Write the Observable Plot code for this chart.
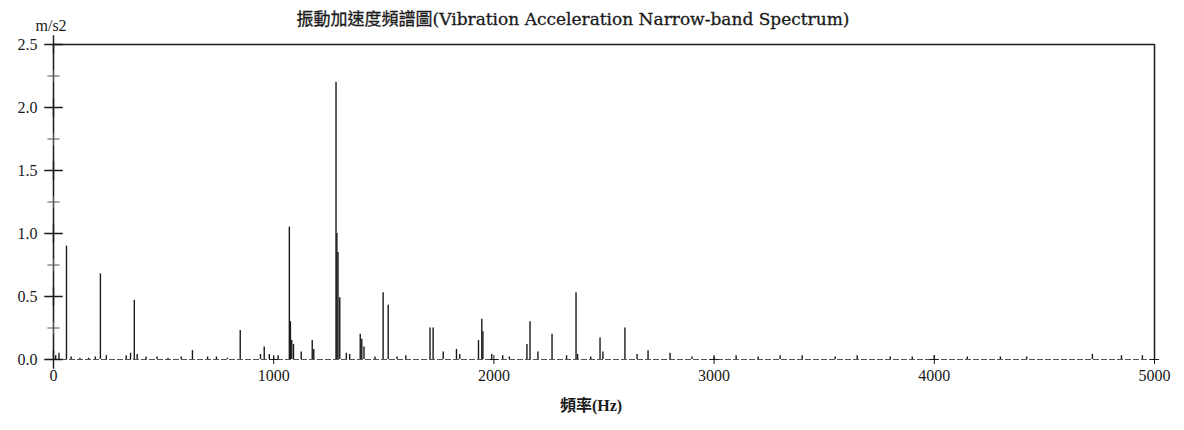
<!DOCTYPE html>
<html>
<head>
<meta charset="utf-8">
<script src="https://cdn.jsdelivr.net/npm/d3@7"></script>
<script src="https://cdn.jsdelivr.net/npm/@observablehq/plot@0.6"></script>
<style>
  html, body { margin: 0; padding: 0; background: #fff; }
  svg { display: block; }
</style>
</head>
<body>
<div id="chart"></div>
<script>
const titleText = "振動加速度頻譜圖(Vibration Acceleration Narrow-band Spectrum)";
const yUnit = "m/s2";
const xLabel = "頻率(Hz)";

const xTicks = [0, 1000, 2000, 3000, 4000, 5000];
const yTicks = [0, 0.5, 1.0, 1.5, 2.0, 2.5];
const yMinorTicks = [0.25, 0.75, 1.25, 1.75, 2.25];

// Spectrum lines: frequency (Hz) and amplitude (m/s2)
const freqs = [10, 25, 59, 80, 120, 160, 190, 213, 240, 330, 350, 367, 380, 420, 470, 520, 580, 631, 700, 740, 790,
  848, 940, 957, 980, 1000, 1020, 1071, 1076, 1082, 1090, 1125, 1175, 1182,
  1283, 1287, 1292, 1300, 1330, 1345, 1393, 1400, 1410, 1460, 1497, 1520,
  1560, 1600, 1710, 1724, 1770, 1830, 1845, 1930, 1945, 1950, 1990, 2040, 2070,
  2150, 2164, 2200, 2264, 2330, 2373, 2380, 2440, 2482, 2495, 2595, 2650, 2700, 2800,
  2900, 3000, 3100, 3200, 3300, 3400, 3550, 3650, 3800, 3900, 4000, 4150, 4300, 4420,
  4718, 4850, 4945];
const amps = [0.03, 0.05, 0.9, 0.02, 0.01, 0.01, 0.02, 0.68, 0.03, 0.03, 0.05, 0.47, 0.04, 0.02, 0.02, 0.01, 0.02, 0.07, 0.02, 0.02, 0.01,
  0.23, 0.04, 0.1, 0.04, 0.02, 0.03, 1.05, 0.3, 0.15, 0.12, 0.06, 0.15, 0.08,
  2.2, 1.0, 0.85, 0.49, 0.05, 0.04, 0.2, 0.16, 0.1, 0.02, 0.53, 0.43,
  0.02, 0.03, 0.25, 0.25, 0.06, 0.08, 0.04, 0.15, 0.32, 0.22, 0.04, 0.03, 0.02,
  0.12, 0.3, 0.06, 0.2, 0.03, 0.53, 0.04, 0.02, 0.17, 0.06, 0.25, 0.04, 0.07, 0.05,
  0.02, 0.02, 0.03, 0.02, 0.03, 0.03, 0.02, 0.03, 0.02, 0.02, 0.03, 0.02, 0.02, 0.02,
  0.04, 0.03, 0.03];

const spectrum = freqs.map((f, i) => ({f, a: amps[i]}));
const serif = "'Liberation Serif', 'DejaVu Serif', serif";
const cjk = "'Liberation Serif', 'Noto Sans CJK TC', serif";
const titleFont = "'DejaVu Serif', 'Noto Sans CJK TC', serif";
const ink = "#1a1a1a";

const chart = Plot.plot({
  width: 1184,
  height: 430,
  marginTop: 44,
  marginBottom: 71,
  marginLeft: 53,
  marginRight: 30,
  style: {fontFamily: serif, fontSize: "16px", color: ink, background: "#fff"},
  x: {domain: [0, 5000]},
  y: {domain: [0, 2.5]},
  marks: [
    // frame lines
    Plot.ruleY([0], {stroke: "#555", strokeWidth: 1, strokeDasharray: "6,2"}),
    Plot.ruleY([2.5], {stroke: ink, strokeWidth: 1.5}),
    Plot.ruleX([0], {stroke: ink, strokeWidth: 1.5}),
    Plot.ruleX([5000], {stroke: ink, strokeWidth: 1.5}),
    // spectrum
    Plot.ruleX(spectrum, {x: "f", y1: 0, y2: "a", stroke: ink, strokeWidth: 1.4}),
    // y axis: labels + crossing tick marks
    Plot.axisY(yTicks, {tickSize: 0, tickPadding: 16, tickFormat: d3.format(".1f"), label: null, fill: ink}),
    Plot.dot(yTicks, {x: 0, y: d => d, symbol: "plus", r: 6, stroke: ink, strokeWidth: 1.4}),
    Plot.dot(yMinorTicks, {x: 0, y: d => d, symbol: "plus", r: 4, stroke: "#555", strokeWidth: 1}),
    // x axis: labels + crossing tick marks
    Plot.axisX(xTicks, {tickSize: 0, tickPadding: 10, tickFormat: d => String(d), label: null, fill: ink}),
    Plot.dot(xTicks, {x: d => d, y: 0, symbol: "plus", r: 3, stroke: ink, strokeWidth: 1}),
    // texts
    Plot.text([titleText], {frameAnchor: "top", dx: -31, dy: -32, fontSize: 17, fill: ink, stroke: ink, strokeWidth: 0.3, fontFamily: titleFont}),
    Plot.text([yUnit], {frameAnchor: "top-left", dx: -18, dy: -25, fontSize: 16, fill: ink}),
    Plot.text([xLabel], {frameAnchor: "bottom", dx: -13, dy: 51, fontSize: 16, fontWeight: "bold", fill: ink, fontFamily: cjk})
  ]
});
document.getElementById("chart").appendChild(chart);
</script>
</body>
</html>
